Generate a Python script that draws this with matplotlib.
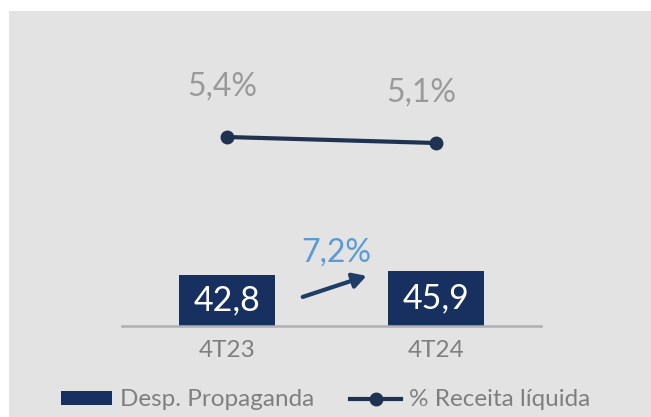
import matplotlib.pyplot as plt
from matplotlib.patches import Rectangle
from matplotlib.lines import Line2D
from matplotlib.patches import Patch

# dados
categorias = ["4T23", "4T24"]
desp_propaganda = [42.8, 45.9]
pct_receita = [5.4, 5.1]
crescimento = "7,2%"

cor_barra = "#17305f"
cor_linha = "#1f3350"
cor_texto = "#7f7f7f"
cor_fundo = "#e3e3e3"

plt.rcParams['font.family'] = ['Lato', 'DejaVu Sans']

W, H = 651, 417
fig = plt.figure(figsize=(W / 100, H / 100), dpi=100)
fig.patch.set_facecolor("white")
fig.patches.append(Rectangle((9 / W, 0), 1 - 9 / W, 1 - 11 / H,
                             transform=fig.transFigure, facecolor=cor_fundo,
                             edgecolor="none", zorder=-5))

# eixo principal: x de 122 a 541 px, y de 40 a 326 px
ax = fig.add_axes([122 / W, 1 - 326 / H, (541 - 122) / W, (326 - 40) / H])
ax.set_facecolor("none")
x = list(range(len(categorias)))
ax.bar(x, desp_propaganda, width=0.46, color=cor_barra, zorder=2)
ax.set_xlim(-0.5, 1.5)
ax.set_ylim(0, 286 / 1.2)
for s in ["top", "right", "left"]:
    ax.spines[s].set_visible(False)
ax.spines["bottom"].set_color("#b0b0b0")
ax.spines["bottom"].set_linewidth(1.8)
ax.set_yticks([])
ax.set_xticks(x)
ax.set_xticklabels(categorias, fontsize=17.5, color=cor_texto)
ax.tick_params(axis="x", length=0, pad=10)

for xi, v in zip(x, desp_propaganda):
    ax.text(xi, v / 2, f"{v:.1f}".replace(".", ","), ha="center", va="center",
            color="white", fontsize=24.5, zorder=3)

# eixo secundario para % receita
ax2 = ax.twinx()
ax2.plot(x, pct_receita, color=cor_linha, linewidth=3, marker="o",
         markersize=9, zorder=4)
ax2.set_ylim(-4.05, 10.25)
ax2.axis("off")
for xi, v, dx in zip(x, pct_receita, [-0.02, -0.07]):
    ax2.text(xi + dx, v + 2.5, f"{v:.1f}%".replace(".", ","), ha="center",
             va="center", color="#9a9a9a", fontsize=23)

# seta de crescimento
ax.annotate("", xy=(0.68, 42.5), xytext=(0.35, 23.5),
            arrowprops=dict(arrowstyle="-|>,head_length=0.8,head_width=0.45",
                            color="#1f3d66", lw=3))
ax.text(0.525, 61, crescimento, ha="center", va="center", color="#5b9bd5",
        fontsize=23)

# legenda
handles = [Patch(facecolor=cor_barra, edgecolor="none"),
           Line2D([0], [0], color=cor_linha, lw=3, marker="o", markersize=9)]
fig.legend(handles, ["Desp. Propaganda", "% Receita líquida"], loc="center",
           bbox_to_anchor=(0.5, 1 - 400 / H), ncol=2, frameon=False,
           labelcolor=cor_texto, handlelength=2.1, handleheight=0.55,
           handletextpad=0.3, columnspacing=1.5, prop={"size": 17.5})

fig.savefig("out.png", dpi=100)
